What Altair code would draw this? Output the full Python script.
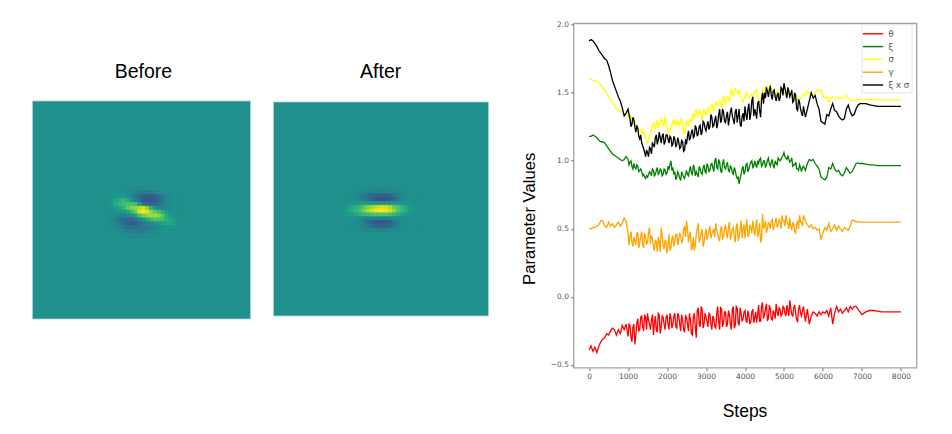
import altair as alt
import pandas as pd

FONT = "Liberation Sans"
TICK_FONT = "DejaVu Sans"

before_rows = [
    [50,50,50,50,50,50,50,49,48,48,48,48,49,50,50,50,50,50,50,50,50,50],
    [50,50,50,50,50,50,50,49,47,45,43,42,42,43,45,47,49,50,50,50,50,50],
    [50,50,50,52,54,55,54,50,47,42,36,30,28,28,30,36,42,46,49,50,50,50],
    [50,50,52,55,60,64,66,62,52,42,34,28,26,26,28,34,40,46,49,50,50,50],
    [50,50,52,56,62,67,70,72,72,70,56,40,32,32,34,38,43,47,49,50,50,50],
    [50,50,50,52,56,60,66,76,82,84,90,94,82,64,52,46,45,47,49,50,50,50],
    [50,49,49,49,50,52,54,60,68,78,96,100,96,84,76,70,62,54,51,50,50,50],
    [50,50,49,47,45,44,44,46,50,56,70,78,84,86,86,84,74,62,56,52,50,50],
    [50,50,49,47,43,38,34,32,33,38,44,50,60,68,72,72,70,64,60,56,52,50],
    [50,50,50,48,45,40,35,30,28,30,34,40,44,46,50,54,58,60,60,57,53,51],
    [50,50,50,49,47,44,41,37,36,36,38,40,42,44,47,49,51,52,53,52,51,50],
    [50,50,50,50,49,48,46,44,43,42,41,42,44,45,47,49,50,50,50,50,50,50],
    [50,50,50,50,50,50,50,49,48,48,47,47,48,49,50,50,50,50,50,50,50,50],
]
after_rows = [
    [50,50,50,50,50,50,50,50,49,49,49,49,49,49,50,50,50,50,50,50,50,50],
    [50,50,50,50,49,47,46,45,44,44,44,44,44,45,46,47,49,50,50,50,50,50],
    [50,50,50,50,48,44,41,38,34,32,30,30,31,34,38,42,46,48,50,50,50,50],
    [50,50,50,50,49,46,42,38,32,27,24,23,24,28,34,41,46,49,50,50,50,50],
    [51,51,52,54,56,56,54,52,50,50,50,50,50,50,50,50,51,51,51,50,50,50],
    [50,52,56,60,64,68,74,80,84,88,92,94,92,86,78,72,66,60,56,52,50,50],
    [50,53,58,62,66,70,78,86,92,98,100,100,98,92,84,74,68,62,56,52,50,50],
    [50,51,54,56,60,63,66,68,70,72,73,73,72,70,66,62,58,55,52,50,50,50],
    [50,50,50,50,50,48,46,44,44,44,44,44,44,46,47,48,49,50,50,50,50,50],
    [50,50,50,50,49,46,41,35,30,27,26,26,27,31,38,44,48,49,50,50,50,50],
    [50,50,50,50,50,48,45,41,36,32,30,31,33,36,41,46,48,50,50,50,50,50],
    [50,50,50,50,50,50,49,47,46,45,44,44,45,46,48,49,50,50,50,50,50,50],
    [50,50,50,50,50,50,50,50,50,50,50,50,50,50,50,50,50,50,50,50,50,50],
]

steps = list(range(0, 7001, 50)) + list(range(7100, 8001, 100))
steps_mid = list(range(1025, 5500, 50))

theta = [
    -.39,-.36,-.40,-.37,-.41,-.36,-.33,-.31,-.30,-.27,
    -.28,-.25,-.23,-.24,-.28,-.24,-.27,-.21,-.24,-.20,
    -.29,-.21,-.33,-.20,-.28,-.16,-.24,-.14,-.25,-.15,
    -.12,-.20,-.17,-.28,-.14,-.26,-.13,-.22,-.15,-.24,
    -.13,-.24,-.15,-.20,-.12,-.23,-.14,-.25,-.17,-.26,
    -.15,-.25,-.17,-.28,-.12,-.30,-.08,-.22,-.09,-.20,
    -.15,-.22,-.13,-.24,-.16,-.23,-.07,-.24,-.09,-.19,
    -.11,-.20,-.13,-.24,-.07,-.21,-.08,-.21,-.12,-.16,
    -.10,-.19,-.14,-.18,-.09,-.15,-.19,-.06,-.18,-.04,
    -.13,-.05,-.16,-.09,-.17,-.12,-.05,-.14,-.09,-.13,
    -.08,-.14,-.10,-.025,-.13,-.08,-.12,-.18,-.06,-.14,
    -.07,-.18,-.09,-.20,-.14,-.11,-.12,-.14,-.11,-.13,
    -.11,-.12,-.10,-.14,-.08,-.20,-.12,-.07,-.11,-.09,
    -.12,-.10,-.08,-.11,-.07,-.09,-.07,-.07,-.09,-.11,
    -.13,-.11,-.10,-.10,-.105,-.11,-.11,-.11,-.11,-.11,-.11,
]
theta_mid = [
    -.20,-.30,-.22,-.35,-.19,-.25,-.15,-.22,-.13,-.24,
    -.17,-.24,-.13,-.20,-.24,-.12,-.27,-.14,-.20,-.15,
    -.20,-.12,-.23,-.14,-.22,-.12,-.20,-.13,-.24,-.14,
    -.20,-.12,-.27,-.15,-.22,-.10,-.20,-.07,-.23,-.12,
    -.18,-.12,-.20,-.14,-.22,-.12,-.18,-.08,-.22,-.11,
    -.22,-.10,-.20,-.09,-.23,-.07,-.19,-.08,-.18,-.11,
    -.17,-.10,-.20,-.11,-.19,-.11,-.13,-.18,-.07,-.16,
    -.09,-.17,-.06,-.16,-.10,-.16,-.11,-.08,-.14,-.07,
    -.12,-.06,-.14,-.08,-.14,-.06,-.17,-.09,-.12,-.10,
]
xi = [
    1.18,1.18,1.19,1.18,1.17,1.15,1.14,1.14,1.13,1.11,
    1.09,1.07,1.05,1.04,1.03,1.02,1.01,1.00,1.01,1.03,
    1.01,0.99,0.96,0.98,0.94,0.96,0.93,0.92,0.90,0.87,
    0.88,0.92,0.89,0.93,0.90,0.95,0.91,0.93,0.90,0.93,
    0.91,0.94,1.00,0.95,0.92,0.88,0.90,0.86,0.90,0.87,
    0.93,0.89,0.96,0.90,0.95,0.92,0.88,0.94,0.90,0.97,
    0.91,0.96,0.93,0.98,0.92,1.02,0.94,0.99,0.91,1.01,
    0.94,0.99,0.92,0.95,0.90,0.93,0.87,0.83,0.90,0.96,
    0.92,0.98,0.94,0.99,0.95,1.00,0.95,0.98,1.02,0.97,
    1.00,0.97,1.02,0.96,1.01,0.95,0.98,1.02,1.00,1.03,
    1.06,1.02,1.04,0.99,1.02,0.97,0.99,0.94,0.97,0.92,
    0.96,0.93,0.98,1.01,1.00,1.01,0.98,0.96,0.94,0.88,
    0.87,0.86,0.88,0.95,0.94,0.98,0.94,0.92,0.93,0.90,
    0.89,0.91,0.95,0.93,0.91,0.92,0.95,0.98,0.985,0.98,
    0.98,0.975,0.97,0.97,0.965,0.965,0.965,0.965,0.965,0.965,0.965,
]
xi_mid = [
    .97,1.00,.94,.95,.97,.92,.94,.89,.88,.89,
    .90,.91,.94,.89,.93,.90,.94,.89,.94,.90,
    .96,.97,.93,.90,.86,.92,.87,.92,.88,.90,
    .90,.93,.91,.97,.89,.90,.96,.91,.95,.92,
    .98,.92,.97,.95,1.00,.95,1.01,.93,.98,.95,
    .97,.93,.96,.91,.95,.89,.88,.87,.94,.90,
    .97,.92,.97,1.00,.96,.97,1.00,1.01,.96,1.00,
    .95,1.00,.98,.99,.96,1.00,.97,1.01,1.01,1.04,
    1.03,1.01,1.01,1.00,.96,.97,.94,.93,.95,.95,
]
sigma = [
    1.60,1.60,1.59,1.59,1.58,1.57,1.56,1.54,1.52,1.50,
    1.47,1.45,1.43,1.41,1.38,1.37,1.36,1.37,1.34,1.36,
    1.35,1.32,1.30,1.28,1.26,1.24,1.22,1.21,1.23,1.16,
    1.13,1.18,1.22,1.28,1.23,1.30,1.25,1.31,1.27,1.32,
    1.24,1.20,1.25,1.29,1.30,1.25,1.28,1.30,1.26,1.19,
    1.29,1.25,1.31,1.33,1.30,1.38,1.33,1.36,1.30,1.38,
    1.34,1.39,1.35,1.41,1.37,1.43,1.40,1.44,1.39,1.48,
    1.42,1.47,1.44,1.52,1.47,1.53,1.50,1.52,1.46,1.43,
    1.47,1.50,1.46,1.49,1.47,1.50,1.52,1.46,1.44,1.52,
    1.53,1.55,1.50,1.56,1.52,1.50,1.47,1.52,1.49,1.51,
    1.50,1.48,1.53,1.48,1.51,1.47,1.44,1.46,1.45,1.47,
    1.49,1.48,1.51,1.49,1.50,1.47,1.50,1.52,1.51,1.52,
    1.48,1.46,1.47,1.43,1.46,1.47,1.46,1.47,1.46,1.46,
    1.46,1.47,1.48,1.46,1.45,1.44,1.44,1.445,1.45,1.45,
    1.45,1.45,1.45,1.45,1.45,1.45,1.445,1.445,1.445,1.445,1.445,
]
sigma_mid = [
    1.31,1.33,1.27,1.29,1.25,1.22,1.23,1.20,1.19,1.14,
    1.16,1.20,1.25,1.26,1.27,1.24,1.28,1.29,1.25,1.28,
    1.22,1.23,1.27,1.26,1.28,1.29,1.26,1.31,1.22,1.24,
    1.28,1.28,1.28,1.34,1.35,1.34,1.37,1.33,1.35,1.35,
    1.37,1.36,1.39,1.40,1.39,1.43,1.42,1.42,1.44,1.44,
    1.45,1.46,1.48,1.50,1.52,1.51,1.49,1.47,1.44,1.45,
    1.49,1.47,1.48,1.48,1.49,1.51,1.47,1.43,1.48,1.51,
    1.54,1.52,1.54,1.53,1.51,1.49,1.50,1.51,1.50,1.50,
    1.49,1.51,1.50,1.50,1.49,1.45,1.45,1.44,1.46,1.48,
]
gamma = [
    .50,.50,.51,.51,.52,.53,.56,.56,.52,.51,
    .55,.52,.54,.51,.53,.55,.52,.54,.58,.56,
    .46,.45,.40,.44,.38,.47,.40,.48,.36,.44,
    .40,.51,.45,.37,.42,.33,.41,.51,.38,.42,
    .32,.46,.36,.45,.41,.46,.42,.45,.41,.52,
    .56,.40,.48,.36,.34,.46,.54,.43,.50,.40,
    .50,.45,.52,.46,.50,.54,.47,.41,.52,.45,
    .53,.43,.55,.46,.51,.40,.54,.44,.56,.50,
    .43,.57,.46,.51,.56,.45,.57,.48,.40,.61,
    .52,.47,.55,.50,.57,.52,.58,.53,.55,.60,
    .56,.60,.54,.58,.49,.53,.47,.56,.60,.55,
    .60,.56,.53,.51,.53,.50,.51,.49,.50,.42,
    .47,.51,.49,.54,.48,.50,.53,.49,.52,.50,
    .48,.51,.50,.49,.52,.565,.56,.55,.555,.55,
    .55,.55,.55,.55,.55,.55,.55,.55,.55,.55,.55,
]
gamma_mid = [
    .38,.48,.37,.41,.47,.36,.45,.38,.47,.39,
    .47,.39,.43,.34,.40,.44,.33,.45,.35,.40,
    .39,.34,.43,.37,.46,.38,.47,.40,.50,.44,
    .50,.45,.35,.44,.38,.50,.40,.47,.37,.46,
    .42,.49,.43,.48,.44,.49,.43,.50,.42,.50,
    .47,.51,.42,.50,.44,.52,.41,.50,.43,.53,
    .52,.44,.53,.47,.50,.52,.44,.54,.42,.50,
    .56,.50,.53,.56,.49,.55,.51,.57,.50,.56,
    .52,.56,.50,.52,.55,.48,.53,.50,.55,.52,
]
xi_sigma = [
    1.88,1.89,1.88,1.86,1.84,1.81,1.79,1.77,1.75,1.74,
    1.70,1.65,1.59,1.55,1.51,1.47,1.44,1.39,1.33,1.35,
    1.38,1.31,1.27,1.30,1.21,1.24,1.16,1.13,1.09,1.03,
    1.06,1.10,1.05,1.12,1.17,1.12,1.21,1.13,1.20,1.14,
    1.19,1.13,1.17,1.12,1.16,1.12,1.14,1.10,1.14,1.08,
    1.12,1.22,1.17,1.23,1.18,1.24,1.20,1.26,1.21,1.28,
    1.22,1.29,1.25,1.32,1.26,1.33,1.27,1.38,1.30,1.36,
    1.28,1.36,1.31,1.39,1.30,1.36,1.28,1.38,1.25,1.35,
    1.40,1.30,1.42,1.35,1.47,1.38,1.31,1.44,1.32,1.50,
    1.50,1.54,1.47,1.55,1.45,1.52,1.44,1.50,1.46,1.53,
    1.57,1.50,1.54,1.47,1.52,1.44,1.48,1.37,1.43,1.35,
    1.40,1.32,1.38,1.44,1.50,1.46,1.48,1.42,1.38,1.29,
    1.28,1.27,1.34,1.33,1.38,1.42,1.37,1.36,1.33,1.31,
    1.30,1.31,1.38,1.41,1.36,1.33,1.34,1.38,1.41,1.42,
    1.42,1.42,1.41,1.405,1.40,1.40,1.40,1.40,1.40,1.40,1.40,
]
xi_sigma_mid = [
    1.34,1.25,1.32,1.25,1.26,1.18,1.19,1.11,1.06,1.08,
    1.03,1.09,1.13,1.10,1.19,1.15,1.17,1.18,1.12,1.19,
    1.16,1.18,1.11,1.18,1.10,1.17,1.09,1.15,1.07,1.16,
    1.18,1.15,1.21,1.17,1.26,1.18,1.25,1.19,1.29,1.24,
    1.26,1.23,1.34,1.25,1.30,1.24,1.34,1.28,1.38,1.29,
    1.33,1.26,1.36,1.33,1.27,1.38,1.33,1.27,1.32,1.29,
    1.34,1.38,1.30,1.44,1.33,1.35,1.42,1.37,1.45,1.42,
    1.46,1.51,1.52,1.48,1.51,1.47,1.48,1.44,1.54,1.48,
    1.53,1.46,1.51,1.49,1.43,1.50,1.38,1.45,1.38,1.33,
]

labels = ["θ", "ξ", "σ", "γ", "ξ x σ"]
colors = ["#ff0000", "#008000", "#ffff00", "#ffa500", "#000000"]
series = [theta, xi, sigma, gamma, xi_sigma]
series_mid = [theta_mid, xi_mid, sigma_mid, gamma_mid, xi_sigma_mid]


def cells(rows, first_row=22, first_col=17):
    out = []
    for j, row in enumerate(rows):
        for i, v in enumerate(row):
            out.append({"c": first_col + i, "c2": first_col + i + 1,
                        "r": first_row + j, "r2": first_row + j + 1, "t": v})
    return pd.DataFrame(out)


def panel(rows, title, title_col, w, h, xdom, ydom, title_row):
    x = alt.X("c:Q", axis=None, scale=alt.Scale(domain=xdom, nice=False, zero=False))
    y = alt.Y("r:Q", axis=None, scale=alt.Scale(domain=ydom, nice=False, zero=False, reverse=True))
    cs = alt.Scale(scheme="viridis", domain=[0, 100])
    bg = alt.Chart(pd.DataFrame([{"c": 0, "c2": 56, "r": 0, "r2": 56, "t": 50}])).mark_rect(
        stroke="#a9cfcd", strokeWidth=0.8
    ).encode(x=x, x2="c2:Q", y=y, y2="r2:Q",
             fill=alt.Fill("t:Q", scale=cs, legend=None))
    grid = alt.Chart(cells(rows)).mark_rect(strokeWidth=0.5).encode(
        x=x, x2="c2:Q", y=y, y2="r2:Q",
        fill=alt.Fill("t:Q", scale=cs, legend=None),
        stroke=alt.Stroke("t:Q", scale=cs, legend=None),
    )
    text = alt.Chart(pd.DataFrame([{"c": title_col, "r": title_row, "label": title}])).mark_text(
        font=FONT, fontSize=19.5, color="black", baseline="middle", align="center"
    ).encode(x=x, y=y, text="label:N")
    return alt.layer(bg, grid, text).properties(width=w, height=h)


before = panel(before_rows, "Before", 28.5, 240.5, 344.4, [0, 61.78], [-19.96, 68.5], -7.5)
after = panel(after_rows, "After", 27.9, 299.7, 344.4, [0, 78.05], [-20.6, 69.54], -7.8)

records = []
for name, vals, mids in zip(labels, series, series_mid):
    records += [{"step": s, "value": v, "series": name} for s, v in zip(steps, vals)]
    records += [{"step": s, "value": v, "series": name} for s, v in zip(steps_mid, mids)]
long = pd.DataFrame(records)

lines = alt.Chart(long).mark_line(strokeWidth=1.3).encode(
    x=alt.X("step:Q", scale=alt.Scale(domain=[-400, 8400], nice=False, zero=False),
            axis=alt.Axis(values=list(range(0, 8001, 1000)), format="d", title="Steps",
                          titleFont=FONT, titleFontSize=17.5, titleFontWeight="normal",
                          titleColor="black", titleX=171, titleY=44, titleBaseline="middle",
                          titleAnchor="middle",
                          labelFont=TICK_FONT, labelFontSize=7.5, labelColor="#555555",
                          tickColor="#777777", tickSize=3, grid=False, domain=False)),
    y=alt.Y("value:Q", scale=alt.Scale(domain=[-0.52, 2.01], nice=False, zero=False),
            axis=alt.Axis(values=[-0.5, 0, 0.5, 1.0, 1.5, 2.0], format=".1f",
                          title="Parameter Values",
                          titleFont=FONT, titleFontSize=16.7, titleFontWeight="normal",
                          titleColor="black", titleX=-44, titleY=195, titleBaseline="middle",
                          labelFont=TICK_FONT, labelFontSize=7.5, labelColor="#555555",
                          tickColor="#777777", tickSize=3, grid=False, domain=False)),
    color=alt.Color("series:N", sort=labels,
                    scale=alt.Scale(domain=labels, range=colors),
                    legend=alt.Legend(orient="none", legendX=288, legendY=1, title=None,
                                      symbolType="M-1.6,0L1.6,0", symbolSize=160,
                                      symbolStrokeWidth=1.4, symbolOffset=2,
                                      labelFont=TICK_FONT, labelFontSize=8.5,
                                      labelColor="#555555", labelOffset=8,
                                      rowPadding=0.8, padding=2,
                                      fillColor="white", strokeColor="#e6e6e6")),
).properties(width=343, height=344.4, view=alt.ViewBackground(stroke="#a3a3a3", strokeWidth=1.3))

chart = alt.hconcat(before, after, lines, spacing=0, bounds="flush").resolve_scale(
    color="independent", fill="independent", stroke="independent"
).configure_view(stroke=None).properties(
    padding={"left": 23.5, "top": 11.3, "right": 0, "bottom": 0},
    background="white",
)

chart.save("out.html", embed_options={"renderer": "svg", "actions": False})
